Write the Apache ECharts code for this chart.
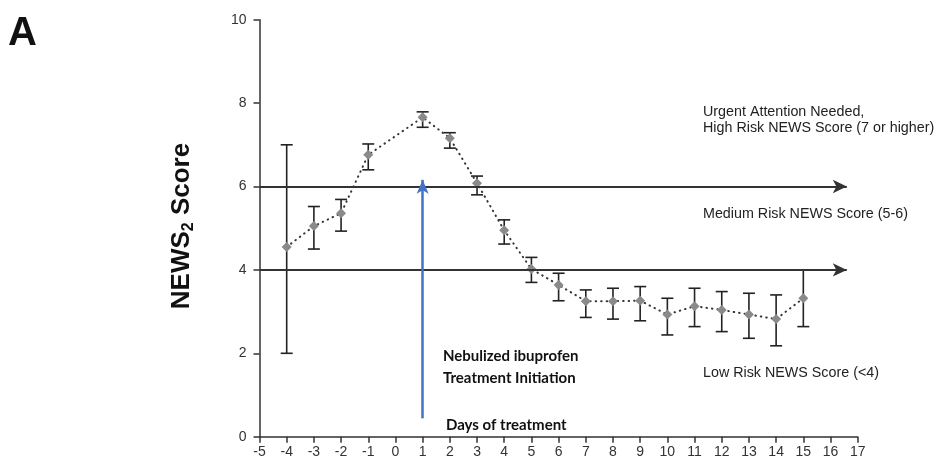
<!DOCTYPE html>
<html>
<head>
<meta charset="utf-8">
<script src="https://cdn.jsdelivr.net/npm/echarts@6/dist/echarts.min.js"></script>
<style>
  html, body { margin: 0; padding: 0; background: #fff; }
  #main { width: 937px; height: 467px; }
</style>
</head>
<body>
<div id="main"></div>
<script>
// days relative to treatment start (no measurement on day 0)
var days  = [-4, -3, -2, -1, 1, 2, 3, 4, 5, 6, 7, 8, 9, 10, 11, 12, 13, 14, 15];
var means = [4.55, 5.05, 5.36, 6.76, 7.66, 7.16, 6.08, 4.95, 4.02, 3.64, 3.25, 3.25, 3.26, 2.93, 3.13, 3.04, 2.93, 2.82, 3.32];
var lows  = [2.0, 4.5, 4.93, 6.4, 7.42, 6.92, 5.8, 4.62, 3.7, 3.26, 2.86, 2.82, 2.78, 2.44, 2.64, 2.52, 2.36, 2.18, 2.64];
var highs = [7.0, 5.52, 5.69, 7.02, 7.79, 7.29, 6.25, 5.2, 4.3, 3.92, 3.52, 3.56, 3.6, 3.32, 3.56, 3.48, 3.44, 3.4, 4.0];

// risk thresholds drawn as arrows
var thresholds = [6, 4];
var thresholdEnd = 16.6;
// blue treatment arrow
var treatmentDay = 1;
var treatmentArrow = [0.44, 6.16];

var xTicks = { min: -5, max: 17, interval: 1 };
var yTicks = { min: 0, max: 10, interval: 2 };

var meanData = [], barData = [];
for (var i = 0; i < days.length; i++) {
    meanData.push([days[i], means[i]]);
    barData.push([days[i], lows[i], highs[i]]);
}

var markLines = [];
for (var j = 0; j < thresholds.length; j++) {
    markLines.push([
        { coord: [xTicks.min, thresholds[j]], symbol: 'none' },
        { coord: [thresholdEnd, thresholds[j]], symbol: 'arrow', symbolSize: [10, 14] }
    ]);
}
markLines.push([
    { coord: [treatmentDay, treatmentArrow[0]], symbol: 'none',
      lineStyle: { color: '#4472c4', width: 2.5, type: 'solid' } },
    { coord: [treatmentDay, treatmentArrow[1]], symbol: 'arrow', symbolSize: [9, 14],
      lineStyle: { color: '#4472c4', width: 2.5, type: 'solid' } }
]);

function renderErrBar(params, api) {
    var x = api.value(0);
    var lo = api.coord([x, api.value(1)]);
    var hi = api.coord([x, api.value(2)]);
    var w = 6;
    var st = { stroke: '#222', lineWidth: 1.6, fill: null };
    return {
        type: 'group',
        children: [
            { type: 'line', shape: { x1: hi[0], y1: hi[1], x2: lo[0], y2: lo[1] }, style: st },
            { type: 'line', shape: { x1: hi[0] - w, y1: hi[1], x2: hi[0] + w, y2: hi[1] }, style: st },
            { type: 'line', shape: { x1: lo[0] - w, y1: lo[1], x2: lo[0] + w, y2: lo[1] }, style: st }
        ]
    };
}

var axisFont = { color: '#333', fontFamily: 'Liberation Sans, Arial', fontSize: 14 };
var noteFont = '14.3px Liberation Sans, Arial';

var myChart = echarts.init(document.getElementById('main'));
var option = {
    animation: false,
    backgroundColor: '#fff',
    grid: { left: 259.5, right: 79.3, top: 19.7, bottom: 30.3 },
    xAxis: {
        type: 'value',
        min: xTicks.min, max: xTicks.max, interval: xTicks.interval,
        splitLine: { show: false },
        axisLine: { onZero: false, lineStyle: { color: '#333', width: 1.5 } },
        axisTick: { length: 6, lineStyle: { color: '#333', width: 1.5 } },
        axisLabel: Object.assign({ margin: 8 }, axisFont)
    },
    yAxis: {
        type: 'value',
        min: yTicks.min, max: yTicks.max, interval: yTicks.interval,
        splitLine: { show: false },
        axisLine: { show: true, onZero: false, lineStyle: { color: '#333', width: 1.5 } },
        axisTick: { show: true, length: 6, lineStyle: { color: '#333', width: 1.5 } },
        axisLabel: Object.assign({ margin: 13 }, axisFont)
    },
    series: [
        {
            type: 'custom',
            name: 'err',
            renderItem: renderErrBar,
            data: barData,
            z: 2
        },
        {
            type: 'line',
            name: 'mean',
            data: meanData,
            symbol: 'diamond',
            symbolSize: 10,
            itemStyle: { color: '#8a8a8a' },
            lineStyle: { color: '#333', width: 2, type: [0.5, 5], cap: 'round' },
            z: 3,
            markLine: {
                silent: true,
                animation: false,
                label: { show: false },
                lineStyle: { color: '#333', width: 2, type: 'solid' },
                data: markLines
            }
        }
    ],
    graphic: [
        { type: 'text', left: 8, top: 14,
          style: { text: 'A', font: 'bold 40px Liberation Sans, Arial', fill: '#111' } },
        { type: 'text', x: 182, y: 226, rotation: Math.PI / 2,
          style: {
              text: 'NEWS{s|2} Score', align: 'center', verticalAlign: 'middle',
              font: 'bold 26px Liberation Sans, Arial', fill: '#111',
              rich: { s: { font: 'bold 16px Liberation Sans, Arial', fill: '#111', padding: [14, 0, 0, 0] } }
          } },
        { type: 'text', x: 703, y: 104,
          style: { text: 'Urgent Attention Needed,\nHigh Risk NEWS Score (7 or higher)',
                   font: noteFont, fill: '#222', lineHeight: 16 } },
        { type: 'text', x: 703, y: 207,
          style: { text: 'Medium Risk NEWS Score (5-6)', font: noteFont, fill: '#222' } },
        { type: 'text', x: 703, y: 366,
          style: { text: 'Low Risk NEWS Score (<4)', font: noteFont, fill: '#222' } },
        { type: 'text', x: 443, y: 345,
          style: { text: 'Nebulized ibuprofen\nTreatment Initiation',
                   font: 'bold 15px Lato', fill: '#111', lineHeight: 22 } },
        { type: 'text', x: 446, y: 418,
          style: { text: 'Days of treatment', font: 'bold 15px Lato', fill: '#111' } }
    ]
};
myChart.setOption(option);
window.onresize = myChart.resize;
</script>
</body>
</html>
